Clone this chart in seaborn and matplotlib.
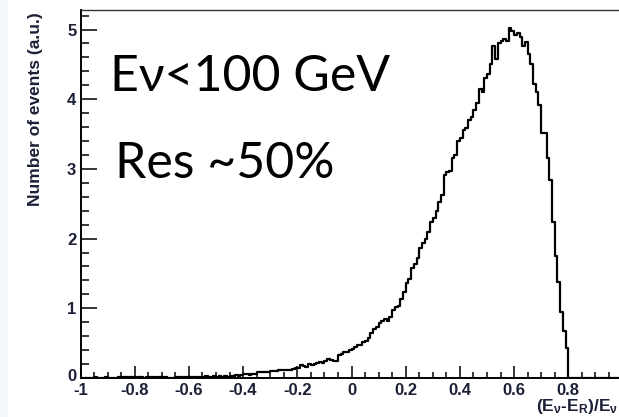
import numpy as np
import pandas as pd
import matplotlib
matplotlib.use("Agg")
import matplotlib.pyplot as plt
import matplotlib.transforms as mtransforms
from matplotlib.ticker import MultipleLocator, FixedLocator
from matplotlib.patches import Rectangle
import seaborn as sns

# Histogram binning: 200 bins of width 0.01 over [-1, 1]
bin_edges = [round(v, 3) for v in np.linspace(-1.0, 1.0, 201)]

# Bin contents (a.u.), from x = -1.00 upward
tail_far = [0, 0, 0, 0, 0, 0.02, 0, 0, 0, 0.01,
            0, 0, 0, 0, 0.01, 0.02, 0.01, 0.01, 0.02, 0.01,
            0, 0.01, 0.01, 0, 0.01, 0.02, 0.01, 0, 0.01, 0.02,
            0.01, 0.02, 0, 0, 0, 0.01, 0.02, 0.02, 0.02, 0.01,
            0.02, 0.02, 0.02, 0.02, 0.02, 0.02, 0.03, 0.02, 0.02, 0.03]
tail_near = [0.02, 0.03, 0.01, 0.03, 0.02, 0.03, 0.03, 0.04, 0.03, 0.04,
             0.06, 0.06, 0.05, 0.06, 0.06, 0.08, 0.09, 0.09, 0.08, 0.09,
             0.10, 0.10, 0.10, 0.11, 0.12, 0.11, 0.115, 0.12, 0.13, 0.14,
             0.15, 0.19, 0.17, 0.16, 0.20, 0.19, 0.20, 0.21, 0.23, 0.22,
             0.24, 0.27, 0.26, 0.25, 0.24, 0.33, 0.35, 0.37, 0.38, 0.40]
peak = [0.42, 0.45, 0.47, 0.47, 0.51, 0.53, 0.58, 0.64, 0.70, 0.73,
        0.79, 0.82, 0.84, 0.82, 0.88, 0.97, 1.02, 1.04, 1.14, 1.24,
        1.36, 1.42, 1.58, 1.63, 1.72, 1.86, 1.94, 2.00, 2.10, 2.24,
        2.29, 2.40, 2.52, 2.62, 2.91, 2.95, 2.97, 3.16, 3.20, 3.40,
        3.45, 3.56, 3.59, 3.70, 3.74, 3.85, 3.94, 4.14, 4.10, 4.30,
        4.36, 4.50, 4.76, 4.57, 4.80, 4.84, 4.86, 4.84, 5.02, 4.98,
        4.92, 4.95, 4.89, 4.77, 4.82, 4.65, 4.51, 4.22, 4.10, 3.91,
        3.51, 3.51, 3.15, 2.84, 2.24, 1.75, 1.38, 0.95, 0.68, 0.43]
above_cut = [0] * 20
counts = tail_far + tail_near + peak + above_cut

x_tick_values = [-1, -0.8, -0.6, -0.4, -0.2, 0, 0.2, 0.4, 0.6, 0.8]
x_tick_labels = ["-1", "-0.8", "-0.6", "-0.4", "-0.2", "0", "0.2", "0.4", "0.6", "0.8"]
y_tick_values = [0, 1, 2, 3, 4, 5]
y_tick_labels = ["0", "1", "2", "3", "4", "5"]

centers = [(a + b) / 2 for a, b in zip(bin_edges[:-1], bin_edges[1:])]
df = pd.DataFrame({"resolution": centers, "events": counts})

sns.set_theme(style="white")
plt.rcParams["font.family"] = ["Liberation Sans", "DejaVu Sans"]
plt.rcParams["mathtext.fontset"] = "custom"
plt.rcParams["mathtext.rm"] = "Liberation Sans"
plt.rcParams["mathtext.bf"] = "Liberation Sans:bold"
plt.rcParams["mathtext.it"] = "Liberation Sans:bold"

W, H = 619, 417
fig = plt.figure(figsize=(W / 100, H / 100), dpi=100)
fig.patch.set_facecolor("white")
fig.patches.append(Rectangle((0, 0), 8 / W, 1, transform=fig.transFigure,
                             facecolor="#f3f8fc", edgecolor="none", zorder=0))

ax = fig.add_axes([80.5 / W, 39 / H, 542 / W, 368 / H])
ax.set_facecolor("white")

sns.histplot(data=df, x="resolution", weights="events", bins=bin_edges,
             element="step", fill=False, color="black", linewidth=1.6, ax=ax)

ax.set_xlim(-1, 1)
ax.set_ylim(0, 5.28)
ax.set_xlabel("")
ax.set_ylabel("")

label_color = "#1b2036"
ax.xaxis.set_major_locator(FixedLocator(x_tick_values))
ax.set_xticklabels(x_tick_labels)
ax.xaxis.set_minor_locator(MultipleLocator(0.05))
ax.yaxis.set_major_locator(FixedLocator(y_tick_values))
ax.set_yticklabels(y_tick_labels)
ax.yaxis.set_minor_locator(MultipleLocator(0.2))

for lab in ax.get_xticklabels() + ax.get_yticklabels():
    lab.set_fontweight("bold")
    lab.set_fontsize(12)
    lab.set_color(label_color)

ax.tick_params(axis="x", which="major", direction="in", length=8.5, width=1.1,
               color="black", pad=3.5, bottom=True, top=False)
ax.tick_params(axis="x", which="minor", direction="in", length=4.2, width=1.1,
               color="black", bottom=True, top=False)
ax.tick_params(axis="y", which="major", direction="in", length=11.5, width=1.1,
               color="black", pad=3, left=True, right=False)
ax.tick_params(axis="y", which="minor", direction="in", length=5.8, width=1.1,
               color="black", left=True, right=False)

# Lift the "0" on the y axis clear of the "-1" below it
zero_label = ax.get_yticklabels()[0]
zero_label.set_transform(zero_label.get_transform() +
                         mtransforms.ScaledTranslation(0, 3 / 100, fig.dpi_scale_trans))

for side in ["left", "bottom"]:
    ax.spines[side].set_color("black")
    ax.spines[side].set_linewidth(1.4)
ax.spines["top"].set_color("#333333")
ax.spines["top"].set_linewidth(1.0)
ax.spines["right"].set_visible(False)

# Axis titles, aligned to the ends of the axes
fig.text(36 / W, 1 - 12 / H, "Number of events (a.u.)", rotation=90,
         ha="center", va="top", fontsize=12.5, fontweight="bold", color=label_color)
fig.text(618 / W, 1 - 411 / H, r"$\mathbf{(E_{\nu}}$-$\mathbf{E_{R})/E_{\nu}}$",
         ha="right", va="baseline", fontsize=12.5, fontweight="bold", color=label_color)

big_font = ["Lato", "DejaVu Sans"]
fig.text(110 / W, 1 - 91 / H, "E\u03bd<100 GeV", ha="left", va="baseline",
         fontsize=36, family=big_font, color="black")
fig.text(115 / W, 1 - 178 / H, "Res ~50%", ha="left", va="baseline",
         fontsize=36, family=big_font, color="black")

fig.savefig("out.png", dpi=100)
